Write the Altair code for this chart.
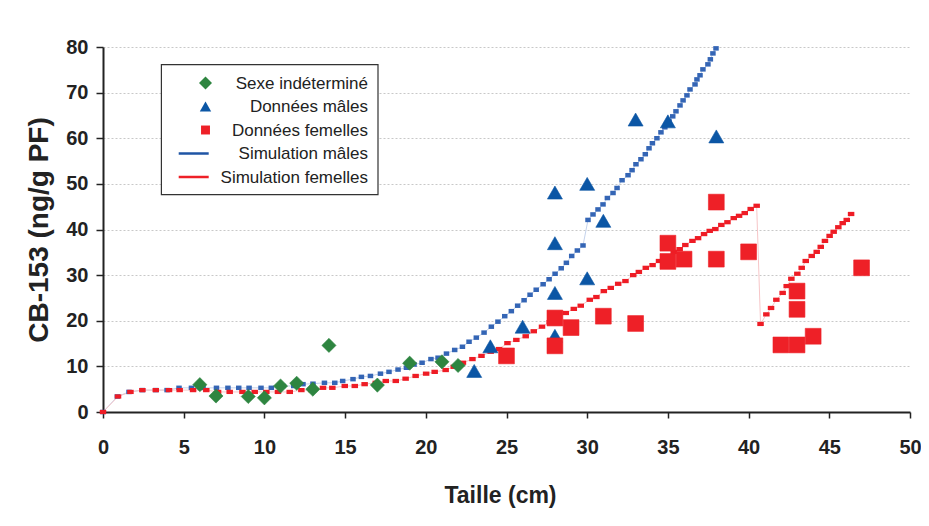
import altair as alt
import pandas as pd

# ---------------- data ----------------
series = ["Sexe indéterminé", "Données mâles", "Données femelles",
          "Simulation mâles", "Simulation femelles"]
colors = ["#2e8540", "#0b56a5", "#ee2027", "#1f55a5", "#ee2027"]
shapes = ["diamond", "triangle-up", "square"]

ind_x = [6, 7, 9, 10, 11, 12, 13, 14, 17, 19, 21, 22]
ind_y = [6.0, 3.5, 3.4, 3.1, 5.7, 6.3, 5.0, 14.6, 5.9, 10.7, 11.0, 10.2]

male_x = [23, 24, 26, 28, 28, 28, 28, 30, 30, 31, 33, 35, 38]
male_y = [9.0, 14.4, 18.7, 16.7, 26.1, 37.0, 48.1, 29.3, 50.0, 41.9, 64.1, 63.7, 60.4]

fem_x = [25, 28, 28, 29, 31, 33, 35, 35, 36, 38, 38, 40, 42, 43, 43, 43, 44, 47]
fem_y = [12.3, 20.6, 14.5, 18.5, 21.0, 19.4, 37.0, 33.0, 33.5, 46.0, 33.5, 35.1,
         14.7, 14.7, 22.5, 26.5, 16.6, 31.6]

sim_m_x = [0, 0.89, 1.61, 2.44, 3.27, 3.97, 4.71, 5.48, 6.2, 7.03, 7.74, 8.41, 9.05,
           9.79, 10.43, 11.15, 11.82, 12.39, 13.01, 13.72, 14.36, 14.85, 15.49, 16.01,
           16.57, 17.19, 17.72, 18.28, 18.8, 19.27, 19.77, 20.32, 20.76, 21.28, 21.79,
           22.27, 22.68, 23.13, 23.61, 24.06, 24.47, 24.89, 25.3, 25.69, 26.09, 26.46,
           26.84, 27.27, 27.64, 28.01, 28.39, 28.71, 29.04, 29.39, 29.74, 30.05, 30.36,
           30.67, 30.98, 31.25, 31.6, 31.85, 32.16, 32.53, 32.78, 33.02, 33.33, 33.6,
           33.83, 34.04, 34.32, 34.57, 34.81, 35.07, 35.3, 35.5, 35.75, 35.94, 36.18,
           36.37, 36.68, 36.8, 36.99, 37.17, 37.48, 37.63, 37.79, 37.98]
sim_m_y = [0, 3.4, 4.4, 4.8, 4.8, 4.8, 5.3, 5.3, 5.3, 5.3, 5.3, 5.3, 5.3,
           5.3, 5.3, 5.7, 5.7, 6.1, 6.2, 6.4, 6.4, 6.8, 7.2, 7.7,
           7.9, 8.4, 8.8, 9.3, 9.7, 10.4, 10.8, 11.6, 11.9, 12.8, 13.6,
           14.3, 15.4, 16.3, 17.4, 18.7, 19.8, 21.0, 22.1, 23.3, 24.5, 25.7,
           26.8, 28.0, 29.1, 30.3, 31.5, 32.7, 34.2, 35.4, 36.5, 42.1, 43.3,
           44.4, 45.5, 46.9, 48.0, 49.1, 50.8, 51.9, 53.0, 54.3, 55.4, 56.5,
           57.8, 58.9, 60.0, 61.3, 62.4, 63.7, 64.8, 65.9, 67.2, 68.3, 69.4,
           70.7, 71.8, 72.9, 73.8, 75.1, 76.2, 77.3, 78.6, 79.7]

sim_f_x = [0, 0.93, 1.7, 2.44, 3.27, 4.09, 4.75, 5.58, 6.4, 7.13, 7.85, 8.64, 9.4,
           10.12, 10.84, 11.57, 12.29, 12.91, 13.63, 14.21, 14.98, 15.6, 16.21, 16.9,
           17.52, 18.14, 18.75, 19.37, 20.02, 20.55, 21.23, 21.73, 22.3, 22.89, 23.45,
           24.02, 24.54, 25.06, 25.61, 26.19, 26.69, 27.2, 27.68, 28.19, 28.67, 29.17,
           29.6, 30.16, 30.57, 31.03, 31.46, 31.92, 32.37, 32.85, 33.2, 33.63, 34.05,
           34.45, 34.93, 35.36, 35.73, 36.08, 36.52, 36.87, 37.24, 37.59, 37.94, 38.31,
           38.69, 39.08, 39.41, 39.76, 40.13, 40.5, 40.74, 41.1, 41.39, 41.72, 42.11,
           42.36, 42.65, 43.02, 43.29, 43.54, 43.91, 44.22, 44.47, 44.73, 45.02, 45.27,
           45.56, 45.83, 46.08, 46.35]
sim_f_y = [0, 3.4, 4.4, 4.8, 4.8, 4.8, 4.8, 4.8, 4.8, 4.4, 4.4, 4.4, 4.4,
           4.4, 4.4, 4.4, 4.8, 4.8, 5.3, 5.3, 5.7, 5.7, 6.1, 6.4,
           6.8, 6.8, 7.3, 7.9, 8.4, 8.8, 9.2, 9.9, 10.8, 11.6, 12.3,
           13.2, 13.8, 15.1, 15.8, 16.6, 17.7, 18.7, 19.7, 20.6, 21.7, 22.6,
           23.3, 24.6, 25.2, 26.5, 27.2, 28.1, 28.7, 30.0, 30.7, 31.6, 32.2,
           33.1, 34.0, 35.1, 35.7, 36.6, 37.5, 38.1, 39.0, 39.7, 40.1, 41.0,
           41.6, 42.5, 43.0, 43.6, 44.5, 45.2, 19.3, 21.4, 22.8, 24.6, 26.1,
           27.6, 29.2, 30.3, 31.6, 33.1, 34.2, 35.1, 36.2, 37.5, 38.6, 39.5,
           40.5, 41.4, 42.1, 43.4]

x_ticks = [0, 5, 10, 15, 20, 25, 30, 35, 40, 45, 50]
y_ticks = [0, 10, 20, 30, 40, 50, 60, 70, 80]

# ---------------- tables ----------------
obs = pd.DataFrame({
    "x": ind_x + male_x + fem_x,
    "y": ind_y + male_y + fem_y,
    "serie": [series[0]] * len(ind_x) + [series[1]] * len(male_x) + [series[2]] * len(fem_x),
})
sim_m = pd.DataFrame({"x": sim_m_x, "y": sim_m_y, "i": range(len(sim_m_x))})
sim_f = pd.DataFrame({"x": sim_f_x, "y": sim_f_y, "i": range(len(sim_f_x))})

LBL_FONT = "'Liberation Sans Narrow', 'Liberation Sans', Arial, sans-serif"
TTL_FONT = "'Liberation Sans', Arial, sans-serif"

x_axis = alt.Axis(values=x_ticks, grid=False, title="Taille (cm)",
                  labelFont=LBL_FONT, labelFontSize=20, labelFontWeight="bold",
                  labelColor="#222", labelPadding=19, tickSize=6, tickWidth=1.5,
                  tickColor="#222", domainColor="#222", domainWidth=2,
                  titleFont=TTL_FONT, titleFontSize=23, titleFontWeight="bold",
                  titleColor="#222", titlePadding=27, titleX=397, labelFlush=False)
y_axis = alt.Axis(values=y_ticks, grid=True, gridColor="#c8c8c8", gridDash=[2, 2],
                  gridWidth=1, title="CB-153 (ng/g PF)",
                  labelFont=LBL_FONT, labelFontSize=20, labelFontWeight="bold",
                  labelColor="#222", labelPadding=8, tickSize=7, tickWidth=1.5,
                  tickColor="#222", domainColor="#222", domainWidth=2,
                  titleFont=TTL_FONT, titleFontSize=28, titleFontWeight="bold",
                  titleColor="#222", titlePadding=12, labelFlush=False)

X = alt.X("x:Q", scale=alt.Scale(domain=[0, 50], nice=False, zero=False), axis=x_axis)
Y = alt.Y("y:Q", scale=alt.Scale(domain=[0, 80], nice=False), axis=y_axis)

one = alt.Data(values=[{"a": 1}])

# simulations: thin pale line + small square markers
blue_mk = "M-1.1,-0.9H1.1V0.9H-1.1Z"
red_mk = "M-1.3,-0.85H1.3V0.85H-1.3Z"
sim_m_line = alt.Chart(sim_m).mark_line(color="#c5d3ec", strokeWidth=1).encode(
    x=X, y=Y, order="i:Q")
sim_m_pts = alt.Chart(sim_m).mark_point(shape=blue_mk, size=25, filled=True,
                                        color="#3465b5", opacity=1).encode(x=X, y=Y)
sim_f_line = alt.Chart(sim_f).mark_line(color="#f7c6c8", strokeWidth=1).encode(
    x=X, y=Y, order="i:Q")
sim_f_pts = alt.Chart(sim_f).mark_point(shape=red_mk, size=25, filled=True,
                                        color="#ee1c25", opacity=1).encode(x=X, y=Y)

# observed data
pts = alt.Chart(obs).mark_point(filled=True, opacity=1, strokeWidth=0.6).encode(
    x=X, y=Y,
    shape=alt.Shape("serie:N", scale=alt.Scale(domain=series[:3], range=shapes), legend=None),
    fill=alt.Fill("serie:N", scale=alt.Scale(domain=series[:3], range=colors[:3]), legend=None),
    stroke=alt.Stroke("serie:N", scale=alt.Scale(domain=series[:3], range=colors[:3]), legend=None),
    size=alt.Size("serie:N", scale=alt.Scale(domain=series[:3], range=[200, 250, 105]), legend=None),
)

# legend box with entries (symbols on the left, labels right-aligned)
leg_box = alt.Chart(one).mark_rect(fill="white", stroke="#333", strokeWidth=1.2).encode(
    x=alt.value(58.4), x2=alt.value(275), y=alt.value(17.6), y2=alt.value(147.6))
row_y = [36, 59.5, 83, 106.5, 130]
leg_sizes = [170, 130, 80]
legend_layers = [leg_box]
for k, name in enumerate(series):
    if k < 3:
        legend_layers.append(
            alt.Chart(one).mark_point(shape=shapes[k], size=leg_sizes[k], filled=True,
                                      color=colors[k], opacity=1).encode(
                x=alt.value(102.5), y=alt.value(row_y[k])))
    else:
        legend_layers.append(
            alt.Chart(one).mark_rule(color=colors[k], strokeWidth=2.5).encode(
                x=alt.value(75.7), x2=alt.value(105.7), y=alt.value(row_y[k])))
    legend_layers.append(
        alt.Chart(alt.Data(values=[{"label": name}])).mark_text(
            align="right", baseline="middle", font=TTL_FONT, fontSize=17, color="#222"
        ).encode(text="label:N", x=alt.value(265), y=alt.value(row_y[k] + 0.5)))

chart = alt.layer(sim_m_line, sim_f_line, sim_m_pts, sim_f_pts,
                  pts, *legend_layers).properties(
    width=807, height=365,
    autosize=alt.AutoSizeParams(type="none"),
    padding={"left": 95, "top": 39, "right": 11, "bottom": 100},
).configure_view(stroke=None)

chart.save("out.html", embed_options={"renderer": "svg", "actions": False})
